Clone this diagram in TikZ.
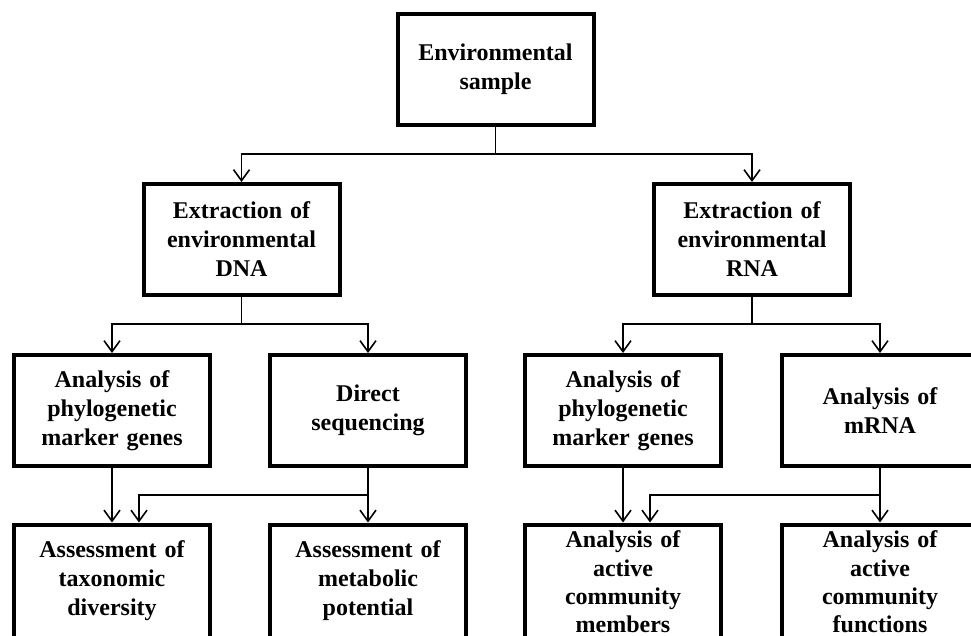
\documentclass[tikz,border=0pt]{standalone}
\usepackage{fontspec}
\setmainfont{Liberation Serif}
\usetikzlibrary{arrows.meta}
\begin{document}
\begin{tikzpicture}[x=1pt,y=-1pt,
  box/.style={draw=black,line width=4pt,rectangle,minimum width=196pt,
    minimum height=111pt,inner sep=0pt,text width=190pt,align=center,
    font=\fontsize{24pt}{29pt}\selectfont\bfseries},
  boxtext/.style={inner sep=0pt,text width=190pt,align=center,
    font=\fontsize{24pt}{28.3pt}\selectfont\bfseries},
  link/.style={draw=black,line width=1.6pt},
  arr/.style={link,-{Straight Barb[length=11pt,width=16pt,line width=1.6pt]}}]
\useasboundingbox (0,0) rectangle (971,635);
\clip (0,0) rectangle (971,635);
\fill[white] (0,0) rectangle (971,635);

% boxes
\node[box] (env) at (495.5,69.5) {Environmental\\sample};
\node[box] (dna) at (241.5,239.5) {Extraction of\\environmental\\DNA};
\node[box] (rna) at (752,239.5) {Extraction of\\environmental\\RNA};
\node[box] (pg1) at (112,410.5) {Analysis of\\phylogenetic\\marker genes};
\node[box] (seq) at (368,410.5) {Direct\\sequencing};
\node[box] (pg2) at (623,410.5) {Analysis of\\phylogenetic\\marker genes};
\node[box] (mr)  at (880,410.5) {Analysis of\\mRNA};
\node[box,minimum height=113pt] (tax) at (112,581) {Assessment of\\taxonomic\\diversity};
\node[box,minimum height=113pt] (met) at (368,581) {Assessment of\\metabolic\\potential};
% the two RNA result boxes run past the lower edge
\node[box,minimum height=125pt] (mem) at (623,587) {};
\node[box,minimum height=125pt] (fun) at (880,587) {};
\node[boxtext] (memtext) at (623,582) {Analysis of\\active\\community\\members};
\node[boxtext] (funtext) at (880,582) {Analysis of\\active\\community\\functions};

% junction points of the branching connectors
\coordinate (j0) at (495.5,154);
\coordinate (j1) at (241.5,324);
\coordinate (j2) at (752,324);
\coordinate (j3) at (368,495);
\coordinate (j4) at (880,495);

% sample -> DNA / RNA
\draw[link] (env.south) -- (j0);
\draw[arr] (j0) -| (dna.north);
\draw[arr] (j0) -| (rna.north);

% DNA branch
\draw[link] (dna.south) -- (j1);
\draw[arr] (j1) -| (pg1.north);
\draw[arr] (j1) -| (seq.north);
\draw[arr] (pg1.south) -- (tax.north);
\draw[arr] (seq.south) -- (met.north);
\draw[arr] (j3) -| ([xshift=27pt]tax.north);

% RNA branch
\draw[link] (rna.south) -- (j2);
\draw[arr] (j2) -| (pg2.north);
\draw[arr] (j2) -| (mr.north);
\draw[arr] (pg2.south) -- (mem.north);
\draw[arr] (mr.south) -- (fun.north);
\draw[arr] (j4) -| ([xshift=27pt]mem.north);
\end{tikzpicture}
\end{document}
